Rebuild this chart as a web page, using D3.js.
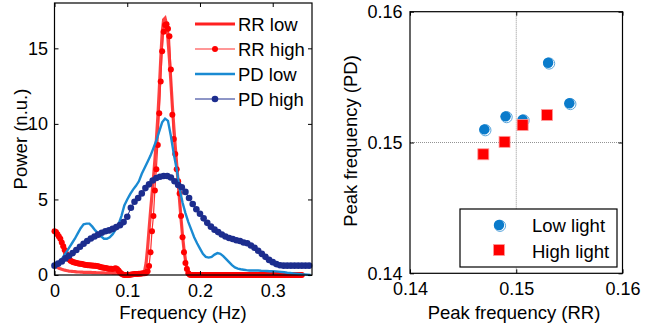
<!DOCTYPE html>
<html>
<head>
<meta charset="utf-8">
<script src="https://cdn.jsdelivr.net/npm/d3@7/dist/d3.min.js"></script>
<style>
  body { margin: 0; background: #fff; }
  svg { font-family: "Liberation Sans", Arial, sans-serif; }
</style>
</head>
<body>
<svg width="651" height="327"></svg>
<script>
"use strict";

// frequency grids (Hz) of the spectra
const rrStep = 0.002, pdLowStep = 0.004, pdHighStep = 0.005;

// RR spectra, one value per 0.002 Hz from 0 to 0.34
const rrHigh = [
  2.9, 2.85, 2.7, 2.55, 2.4, 2.15, 1.9, 1.65, 1.4, 1.2,
  1.05, 0.95, 0.9, 0.85, 0.82, 0.8, 0.77, 0.75, 0.74, 0.72,
  0.7, 0.68, 0.66, 0.65, 0.64, 0.63, 0.63, 0.62, 0.62, 0.6,
  0.58, 0.55, 0.52, 0.5, 0.48, 0.46, 0.44, 0.42, 0.42, 0.41,
  0.4, 0.42, 0.44, 0.4, 0.3, 0.18, 0.08, 0.03, 0, 0,
  0, 0, 0.02, 0.03, 0.05, 0.06, 0.06, 0.07, 0.08, 0.09,
  0.1, 0.11, 0.12, 0.15, 0.25, 0.6, 1.5, 2.9, 3.9, 5.6,
  7.0, 8.6, 10.7, 12.8, 14.8, 16.1, 16.55, 16.6, 16.3, 15.8,
  13.6, 10.6, 9.0, 8.0, 7.0, 6.2, 5.4, 3.9, 2.5, 1.5,
  0.8, 0.4, 0.12, 0.02, 0, 0, 0, 0, 0, 0,
  0, 0, 0, 0, 0, 0, 0, 0, 0, 0,
  0, 0, 0, 0, 0, 0, 0, 0, 0, 0,
  0, 0, 0, 0, 0, 0, 0, 0, 0, 0,
  0, 0, 0, 0, 0, 0, 0, 0, 0, 0,
  0, 0, 0, 0, 0, 0, 0, 0, 0, 0,
  0, 0, 0, 0, 0, 0, 0, 0, 0, 0,
  0, 0, 0, 0, 0, 0, 0, 0, 0, 0,
  0
];
const rrLow = [
  0.6, 0.55, 0.5, 0.45, 0.42, 0.38, 0.35, 0.32, 0.3, 0.28,
  0.26, 0.25, 0.24, 0.23, 0.22, 0.21, 0.2, 0.2, 0.19, 0.19,
  0.18, 0.18, 0.18, 0.17, 0.17, 0.17, 0.16, 0.16, 0.16, 0.15,
  0.15, 0.15, 0.14, 0.14, 0.14, 0.13, 0.13, 0.12, 0.12, 0.12,
  0.11, 0.11, 0.1, 0.1, 0.09, 0.08, 0.07, 0.06, 0.05, 0.05,
  0.04, 0.04, 0.04, 0.05, 0.05, 0.06, 0.06, 0.07, 0.08, 0.08,
  0.1, 0.15, 0.3, 0.8, 1.8, 3.0, 4.2, 5.3, 6.4, 7.6,
  8.9, 10.4, 12.2, 14.2, 16.0, 16.9, 17.0, 16.6, 15.6, 14.3,
  12.8, 11.2, 9.8, 8.5, 7.3, 6.1, 4.9, 3.7, 2.6, 1.7,
  1.0, 0.5, 0.25, 0.12, 0.1, 0.1, 0.1, 0.1, 0.09, 0.09,
  0.09, 0.09, 0.09, 0.09, 0.08, 0.08, 0.08, 0.08, 0.08, 0.08,
  0.08, 0.08, 0.08, 0.07, 0.07, 0.07, 0.07, 0.07, 0.07, 0.07,
  0.07, 0.07, 0.06, 0.06, 0.06, 0.06, 0.06, 0.06, 0.06, 0.06,
  0.06, 0.06, 0.05, 0.05, 0.05, 0.05, 0.05, 0.05, 0.05, 0.05,
  0.05, 0.05, 0.05, 0.04, 0.04, 0.04, 0.04, 0.04, 0.04, 0.04,
  0.04, 0.04, 0.04, 0.04, 0.03, 0.03, 0.03, 0.03, 0.03, 0.03,
  0.03, 0.03, 0.03, 0.03, 0.03, 0.03, 0.03, 0.03, 0.03, 0.03,
  0.03
];

// PD spectra
const pdLow = [
  0.6, 0.75, 0.95, 1.2, 1.5, 1.8, 2.1, 2.4, 2.75, 3.1,
  3.35, 3.4, 3.4, 3.2, 2.95, 2.75, 2.55, 2.4, 2.4, 2.5,
  2.7, 3.0, 3.35, 3.9, 4.6, 5.0, 5.35, 5.65, 5.9, 6.2,
  6.7, 7.1, 7.5, 7.9, 8.4, 8.9, 9.5, 10.1, 10.35, 10.2,
  9.2, 8.0, 7.0, 5.7, 4.8, 4.1, 3.5, 3.0, 2.5, 2.1,
  1.75, 1.4, 1.2, 1.15, 1.2, 1.35, 1.45, 1.4, 1.25, 1.05,
  0.85, 0.65, 0.5, 0.42, 0.38, 0.35, 0.32, 0.3, 0.3, 0.3,
  0.3, 0.28, 0.27, 0.26, 0.25, 0.25, 0.24, 0.22, 0.2, 0.18,
  0.15, 0.13, 0.11, 0.09, 0.07, 0.05, 0.04, 0.02, 0.0
];
const pdHigh = [
  0.62, 0.75, 0.9, 1.1, 1.27, 1.45, 1.65, 1.87, 2.07, 2.25,
  2.42, 2.55, 2.67, 2.8, 2.9, 2.95, 3.05, 3.17, 3.3, 3.5,
  3.85, 4.45, 4.85, 5.1, 5.4, 5.75, 6.0, 6.25, 6.42, 6.5,
  6.55, 6.55, 6.45, 6.2, 5.95, 5.8, 5.5, 5.1, 4.7, 4.35,
  4.05, 3.75, 3.45, 3.2, 3.0, 2.84, 2.68, 2.55, 2.45, 2.38,
  2.3, 2.25, 2.15, 2.1, 1.95, 1.8, 1.6, 1.4, 1.2, 1.0,
  0.85, 0.72, 0.65, 0.62, 0.62, 0.62, 0.62, 0.62, 0.62, 0.62,
  0.62
];

const spectrumTicksX = [0, 0.1, 0.2, 0.3];
const spectrumTicksY = [0, 5, 10, 15];

// peak frequencies (RR, PD)
const lowLightRR = [0.147, 0.149, 0.1506, 0.153, 0.155];
const lowLightPD = [0.151, 0.152, 0.15175, 0.1561, 0.153];
const highLightRR = [0.1469, 0.1489, 0.1506, 0.1529];
const highLightPD = [0.1491, 0.15005, 0.15134, 0.15211];
const peakTicks = [0.14, 0.15, 0.16];

const RED = "#ff0000", BLUE = "#1a8ad2", NAVY = "#1c2d8e";
const FONT = 18;

const svg = d3.select("svg");

// build {f, v} points from an array and its step
function toPoints(values, step) {
  return values.map((v, i) => ({ f: +(i * step).toFixed(4), v: v }));
}

// box axes with inward ticks on all four sides, like matlab
function boxAxes(g, x, y, xTicks, yTicks, xFmt, yFmt, yPad) {
  const [x0, x1] = x.range();
  const [y0, y1] = y.range();
  const tick = 4;
  g.append("g")
    .attr("transform", `translate(0,${y0})`)
    .call(d3.axisBottom(x).tickValues(xTicks).tickFormat(xFmt).tickSizeInner(-tick).tickSizeOuter(0).tickPadding(9))
    .call(a => a.select(".domain").remove());
  g.append("g")
    .attr("transform", `translate(0,${y1})`)
    .call(d3.axisTop(x).tickValues(xTicks).tickFormat("").tickSizeInner(-tick).tickSizeOuter(0))
    .call(a => a.select(".domain").remove());
  g.append("g")
    .attr("transform", `translate(${x0},0)`)
    .call(d3.axisLeft(y).tickValues(yTicks).tickFormat(yFmt).tickSizeInner(-tick).tickSizeOuter(0).tickPadding(yPad))
    .call(a => a.select(".domain").remove());
  g.append("g")
    .attr("transform", `translate(${x1},0)`)
    .call(d3.axisRight(y).tickValues(yTicks).tickFormat("").tickSizeInner(-tick).tickSizeOuter(0))
    .call(a => a.select(".domain").remove());
  g.selectAll(".tick text").attr("font-size", FONT).attr("fill", "#000").style("font-family", "Liberation Sans, Arial, sans-serif");
  g.selectAll(".tick line").attr("stroke", "#000");
  g.append("rect")
    .attr("x", x0).attr("y", y1)
    .attr("width", x1 - x0).attr("height", y0 - y1)
    .attr("fill", "none").attr("stroke", "#000").attr("stroke-width", 1.2);
}

// ---------- left panel: spectra ----------
const xs = d3.scaleLinear().domain([0, 0.354]).range([54.5, 312]);
const ys = d3.scaleLinear().domain([0, 18]).range([275, 3]);

const left = svg.append("g");
const line = d3.line().x(d => xs(d.f)).y(d => ys(d.v));

const rrLowPts = toPoints(rrLow, rrStep);
const rrHighPts = toPoints(rrHigh, rrStep);
const pdLowPts = toPoints(pdLow, pdLowStep);
const pdHighPts = toPoints(pdHigh, pdHighStep);

left.append("path").datum(rrLowPts).attr("d", line)
  .attr("fill", "none").attr("stroke", "#ff2020").attr("stroke-opacity", 0.85).attr("stroke-width", 3.2);
left.append("path").datum(rrHighPts).attr("d", line)
  .attr("fill", "none").attr("stroke", "#ff3030").attr("stroke-width", 1.2);
left.append("g").selectAll("circle").data(rrHighPts).join("circle")
  .attr("cx", d => xs(d.f)).attr("cy", d => ys(d.v)).attr("r", 3).attr("fill", RED);
left.append("path").datum(pdLowPts).attr("d", line)
  .attr("fill", "none").attr("stroke", BLUE).attr("stroke-width", 2.4);
left.append("path").datum(pdHighPts).attr("d", line)
  .attr("fill", "none").attr("stroke", NAVY).attr("stroke-width", 1);
left.append("g").selectAll("circle").data(pdHighPts).join("circle")
  .attr("cx", d => xs(d.f)).attr("cy", d => ys(d.v)).attr("r", 3.3).attr("fill", NAVY);

boxAxes(left, xs, ys, spectrumTicksX, spectrumTicksY, d3.format(""), d3.format(""), 6.5);

left.append("text")
  .attr("x", 183).attr("y", 319).attr("text-anchor", "middle").attr("font-size", FONT + 0.5)
  .text("Frequency (Hz)");
left.append("text")
  .attr("transform", "translate(27,139) rotate(-90)").attr("text-anchor", "middle").attr("font-size", FONT + 0.5)
  .text("Power (n.u.)");

// legend of the spectra
const spectrumLegend = [
  { name: "RR low", color: "#ff2020", width: 3.2, dot: 0 },
  { name: "RR high", color: "#ff3030", width: 1.2, dot: 3 },
  { name: "PD low", color: BLUE, width: 2.6, dot: 0 },
  { name: "PD high", color: NAVY, width: 1, dot: 3.3 }
];
const lg = left.append("g").selectAll("g").data(spectrumLegend).join("g")
  .attr("transform", (d, i) => `translate(195,${24 + i * 25})`);
lg.append("line").attr("x1", 0).attr("x2", 40)
  .attr("stroke", d => d.color).attr("stroke-width", d => d.width);
lg.filter(d => d.dot > 0).append("circle")
  .attr("cx", 20).attr("r", d => d.dot).attr("fill", d => d.name === "RR high" ? RED : NAVY);
lg.append("text").attr("x", 43).attr("dy", "0.36em").attr("font-size", FONT + 0.5).text(d => d.name);

// ---------- right panel: peak frequencies ----------
const xp = d3.scaleLinear().domain([0.14, 0.16]).range([410, 622.5]);
const yp = d3.scaleLinear().domain([0.14, 0.16]).range([273.3, 11.7]);

const right = svg.append("g");

// grid line at the middle tick
right.append("line")
  .attr("x1", xp(0.15)).attr("x2", xp(0.15)).attr("y1", yp(0.16)).attr("y2", yp(0.14))
  .attr("stroke", "#777").attr("stroke-width", 0.8).attr("stroke-dasharray", "1,1");
right.append("line")
  .attr("x1", xp(0.14)).attr("x2", xp(0.16)).attr("y1", yp(0.15)).attr("y2", yp(0.15))
  .attr("stroke", "#777").attr("stroke-width", 0.8).attr("stroke-dasharray", "1,1");

const lowPts = lowLightRR.map((r, i) => ({ rr: r, pd: lowLightPD[i] }));
const highPts = highLightRR.map((r, i) => ({ rr: r, pd: highLightPD[i] }));

function blueDot(sel) {
  sel.append("circle").attr("cx", 1).attr("cy", 0.8).attr("r", 5.6)
    .attr("fill", "#fff").attr("stroke", "#5aa6dc").attr("stroke-width", 1);
  sel.append("circle").attr("r", 5.2).attr("fill", "#0a7bcb");
}
function redSquare(sel) {
  sel.append("rect").attr("x", -5.5).attr("y", -5.5).attr("width", 11).attr("height", 11)
    .attr("fill", RED).attr("stroke", "#ff9a9a").attr("stroke-width", 0.8);
}

right.append("g").selectAll("g").data(lowPts).join("g")
  .attr("transform", d => `translate(${xp(d.rr)},${yp(d.pd)})`)
  .call(blueDot);
right.append("g").selectAll("g").data(highPts).join("g")
  .attr("transform", d => `translate(${xp(d.rr)},${yp(d.pd)})`)
  .call(redSquare);

boxAxes(right, xp, yp, peakTicks, peakTicks, d3.format(".2f"), d3.format(".2f"), 7.5);

right.append("text")
  .attr("x", 514).attr("y", 319).attr("text-anchor", "middle").attr("font-size", FONT + 0.5)
  .text("Peak frequency (RR)");
right.append("text")
  .attr("transform", "translate(357,141) rotate(-90)").attr("text-anchor", "middle").attr("font-size", FONT + 0.5)
  .text("Peak frequency (PD)");

// legend box
const box = right.append("g").attr("transform", "translate(460,209)");
box.append("rect").attr("width", 157).attr("height", 58)
  .attr("fill", "#fff").attr("stroke", "#000").attr("stroke-width", 1.2);
box.append("g").attr("transform", "translate(39,16)").call(blueDot);
box.append("g").attr("transform", "translate(39,41)").call(redSquare);
box.append("text").attr("x", 72).attr("y", 16).attr("dy", "0.36em").attr("font-size", FONT + 0.5).text("Low light");
box.append("text").attr("x", 72).attr("y", 42).attr("dy", "0.36em").attr("font-size", FONT + 0.5).text("High light");
</script>
</body>
</html>
